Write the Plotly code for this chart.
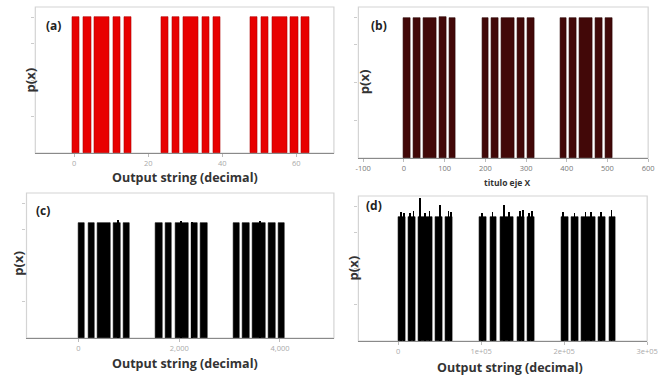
import plotly.graph_objects as go

# Support of the output distribution on a 64-cell grid: runs of present outputs
block_start = [0, 3, 6, 11, 14, 24, 27, 30, 35, 38, 48, 51, 54, 59, 62]
block_len = [2, 2, 4, 2, 2, 2, 2, 4, 2, 2, 2, 2, 4, 2, 2]

# Number of output strings per grid cell in each panel (6, 9, 12 and 18 bits)
cell_size = {"a": 1, "b": 8, "c": 64, "d": 4096}
n_present = {"a": 36, "b": 288, "c": 2304, "d": 147456}

# Relative height of each run (1.0 = uniform probability over the support)
rel_height = {
    "a": [1.0, 1.0, 1.0, 1.0, 1.0, 1.0, 1.0, 1.005, 1.0, 1.0, 1.0, 1.005, 1.0, 1.0, 1.0],
    "b": [1.0, 1.0, 1.0, 1.005, 1.0, 1.0, 1.0, 1.0, 1.0, 1.0, 1.0, 1.0, 1.0, 1.0, 1.0],
    "c": [1.0, 1.0, 1.005, 1.0, 1.0, 1.0, 1.0, 1.005, 1.0, 1.0, 1.0, 1.0, 1.005, 1.0, 1.0],
    "d": [1.0, 1.0, 1.0, 1.0, 1.0, 1.0, 1.0, 1.0, 1.0, 1.0, 1.0, 1.0, 1.0, 1.0, 1.0],
}

# Individual outputs that stick out above their run (x value, relative height)
peak_x = {
    "c": [790, 2040, 2270, 3610],
    "d": [4000, 7000, 15000, 19000, 26400, 33000, 38000, 50600, 61000, 64000,
          101000, 114000, 127500, 134000, 147000, 150500, 158000, 162000,
          199000, 213000, 226000, 233000, 245000, 257500],
}
peak_h = {
    "c": [1.03, 1.02, 1.015, 1.02],
    "d": [1.04, 1.03, 1.03, 1.05, 1.153, 1.03, 1.05, 1.097, 1.05, 1.04,
          1.03, 1.04, 1.097, 1.04, 1.05, 1.06, 1.03, 1.05,
          1.04, 1.03, 1.04, 1.04, 1.04, 1.06],
}

x_ranges = {"a": [-10.5, 70.2], "b": [-112, 600], "c": [-1030, 5070], "d": [-48000, 300000]}
x_ticks = {
    "a": ([0, 20, 40, 60], ["0", "20", "40", "60"]),
    "b": ([-100, 0, 100, 200, 300, 400, 500, 600],
          ["-100", "0", "100", "200", "300", "400", "500", "600"]),
    "c": ([0, 2000, 4000], ["0", "2,000", "4,000"]),
    "d": ([0, 100000, 200000, 300000], ["0", "1e+05", "2e+05", "3e+05"]),
}
# Fraction of the plot height filled by a uniform bar
fill = {"a": 0.93, "b": 0.927, "c": 0.79, "d": 0.855}

bar_color = {"a": "#e80000", "b": "#420808", "c": "#000000", "d": "#000000"}
bar_edge = {"a": "#b00000", "b": "#2a0404", "c": "#000000", "d": "#000000"}

W, H = 667, 379
# Plot frames in pixels: left, right, top, bottom
frames = {"a": (33, 338, 7, 153), "b": (363, 659, 7, 158),
          "c": (24, 338, 193, 338), "d": (363, 658, 196, 341)}

x_titles = {"a": ("Output string (decimal)", 186, 178, 12.5),
            "b": ("titulo eje X", 515, 182, 8.5),
            "c": ("Output string (decimal)", 186, 363, 12.5),
            "d": ("Output string (decimal)", 518, 367, 12.5)}
y_titles = {"a": (28, 80), "b": (369, 82), "c": (15, 263), "d": (357, 268)}
tags = {"a": (52, 25), "b": (384, 25), "c": (41, 210), "d": (379, 205)}

fig = go.Figure()
annotations = []
shapes = []

for i, key in enumerate(["a", "b", "c", "d"]):
    ax = "" if i == 0 else str(i + 1)
    s = cell_size[key]
    p0 = 1.0 / n_present[key]
    xs = [(st + ln / 2) * s - 0.5 for st, ln in zip(block_start, block_len)]
    ws = [ln * s for ln in block_len]
    ys = [r * p0 for r in rel_height[key]]
    fig.add_trace(go.Bar(
        x=xs, y=ys, width=ws, xaxis="x" + ax, yaxis="y" + ax,
        marker=dict(color=bar_color[key], line=dict(color=bar_edge[key], width=0.6)),
        showlegend=False,
    ))
    if key in peak_x:
        fig.add_trace(go.Bar(
            x=peak_x[key], y=[h * p0 for h in peak_h[key]],
            width=[s * 0.22] * len(peak_x[key]), xaxis="x" + ax, yaxis="y" + ax,
            marker=dict(color=bar_color[key], line=dict(width=0)),
            showlegend=False,
        ))

    l, r, t, b = frames[key]
    dom_x = [l / W, r / W]
    dom_y = [1 - b / H, 1 - t / H]
    ymax = p0 / fill[key]
    tv, tt = x_ticks[key]
    tick_font = dict(size=7.5, color="#777" if key == "b" else "#aaa", family="Open Sans")
    fig.update_layout(**{
        "xaxis" + ax: dict(domain=dom_x, range=x_ranges[key], anchor="y" + ax,
                           tickvals=tv, ticktext=tt, tickfont=tick_font,
                           showgrid=False, zeroline=False, showline=True,
                           linecolor="#8a8a8a", linewidth=1,
                           ticks="outside", ticklen=3, tickcolor="#bbb"),
        "yaxis" + ax: dict(domain=dom_y, range=[0, ymax], anchor="x" + ax,
                           tickvals=[ymax * f for f in (0.25, 0.5, 0.75, 0.93)],
                           showticklabels=False, showgrid=False, zeroline=False,
                           showline=False, ticks="outside", ticklen=3,
                           tickcolor="#ccc"),
    })
    shapes.append(dict(type="rect", xref="paper", yref="paper",
                       x0=dom_x[0], x1=dom_x[1], y0=dom_y[0], y1=dom_y[1],
                       line=dict(color="#d4d4d4", width=1.2), layer="below"))

    text, tx, ty, fs = x_titles[key]
    annotations.append(dict(text="<b>" + text + "</b>", x=tx / W, y=1 - ty / H,
                            xref="paper", yref="paper", showarrow=False,
                            xanchor="center", yanchor="middle",
                            font=dict(size=fs, color="#333", family="Open Sans")))
    yx, yy = y_titles[key]
    annotations.append(dict(text="<b>p(x)</b>", x=yx / W, y=1 - yy / H,
                            xref="paper", yref="paper", showarrow=False,
                            textangle=-90, xanchor="center", yanchor="middle",
                            font=dict(size=13, color="#333", family="Open Sans")))
    gx, gy = tags[key]
    annotations.append(dict(text="<b>(" + key + ")</b>", x=gx / W, y=1 - gy / H,
                            xref="paper", yref="paper", showarrow=False,
                            xanchor="center", yanchor="middle",
                            font=dict(size=12, color="#222", family="Open Sans")))

fig.update_layout(
    width=W, height=H, margin=dict(l=0, r=0, t=0, b=0),
    paper_bgcolor="white", plot_bgcolor="white",
    barmode="overlay", bargap=0,
    annotations=annotations, shapes=shapes,
)

fig.write_html("out.html")
